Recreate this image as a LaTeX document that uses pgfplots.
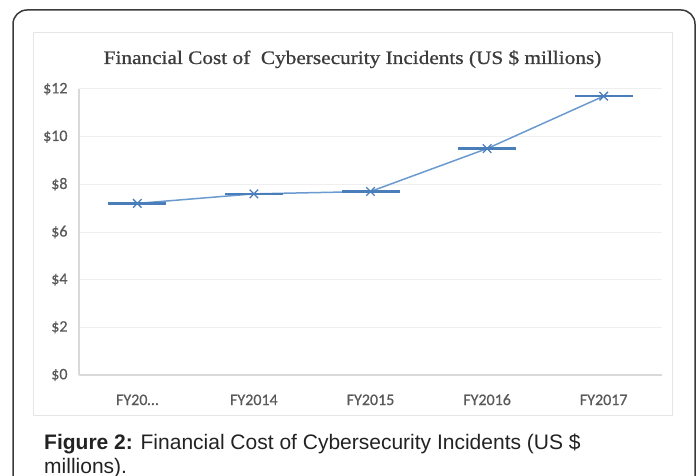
\documentclass[border=0pt]{standalone}
\usepackage{pgfplots}
\pgfplotsset{compat=1.18}
\usepackage{fontspec}
\setmainfont{Liberation Sans}
\newfontfamily\carlito[FakeBold=0.6]{Carlito}
\newfontfamily\titlefont[FakeStretch=1.12,FakeBold=0.9]{Liberation Serif}
\definecolor{linecol}{HTML}{6A9AD0}
\definecolor{markcol}{HTML}{4A7EBB}
\definecolor{tickgrey}{HTML}{595959}
\definecolor{titlegrey}{HTML}{3C3C3C}
\definecolor{gridgrey}{HTML}{EFEFEF}
\definecolor{axisgrey}{HTML}{D9D9D9}
\definecolor{framegrey}{HTML}{E6E6E6}
\definecolor{bordergrey}{HTML}{3A3A3A}
\definecolor{captext}{HTML}{222222}
\begin{document}
\begin{tikzpicture}
\begin{scope}[x=1bp,y=-1bp]
\path[use as bounding box] (0,0) rectangle (699,476);
\begin{scope}
\clip (0,0) rectangle (699,476);
\draw[bordergrey, line width=1.5bp, rounded corners=14bp] (13,10) rectangle (695,520);
\end{scope}
\draw[framegrey, line width=1bp] (33,33) rectangle (672,415);
\node[anchor=base, text=titlegrey, font=\titlefont\fontsize{19bp}{22bp}\selectfont, inner sep=0] at (352.5,64) {Financial Cost of\ \ Cybersecurity Incidents (US \$ millions)};
\node[anchor=base west, inner sep=0, font=\fontsize{21bp}{24bp}\selectfont, text=captext] at (44,449) {\textbf{Figure 2:} Financial Cost of Cybersecurity Incidents (US \$};
\node[anchor=base west, inner sep=0, font=\fontsize{21bp}{24bp}\selectfont, text=captext] at (44,473) {millions).};
\end{scope}
\begin{axis}[
  at={(79bp,-375bp)}, anchor=south west,
  scale only axis, width=583bp, height=286bp,
  xmin=-0.5, xmax=4.5, ymin=0, ymax=12,
  xtick={0,1,2,3,4},
  xticklabels={FY20…,FY2014,FY2015,FY2016,FY2017},
  ytick={0,2,4,6,8,10,12},
  yticklabels={\$0,\$2,\$4,\$6,\$8,\$10,\$12},
  axis x line*=bottom, axis y line*=left,
  axis line style={axisgrey, line width=1.5bp},
  x axis line style={line width=2bp},
  major tick length=0,
  ymajorgrids, grid style={gridgrey, line width=1bp},
  ticklabel style={font=\carlito\fontsize{16bp}{19bp}\selectfont, text=tickgrey},
  xticklabel style={anchor=base, yshift=-30bp},
  yticklabel style={anchor=east, xshift=-8bp},
  clip=false,
]
\addplot[linecol, line width=1.5bp, mark=x, mark size=6bp, mark options={markcol, line width=1.3bp}]
  coordinates {(0,7.2) (1,7.6) (2,7.7) (3,9.5) (4,11.7)};
\addplot[only marks, mark=-, mark size=29bp, mark options={markcol, line width=2.5bp}]
  coordinates {(0,7.2) (1,7.6) (2,7.7) (3,9.5) (4,11.7)};
\end{axis}
\end{tikzpicture}
\end{document}
